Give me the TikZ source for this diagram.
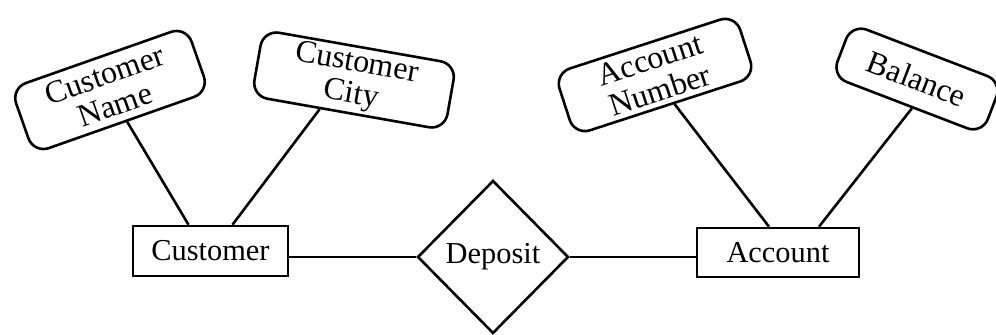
\documentclass[tikz,border=0pt]{standalone}
\usepackage{fontspec}
\setmainfont{Liberation Serif}
\usetikzlibrary{shapes.geometric,calc}
\begin{document}
\begin{tikzpicture}[x=0.5pt,y=-0.5pt,line width=1.3pt,
  entity/.style={draw,rectangle,inner sep=0pt,font=\fontsize{15.2}{16}\selectfont},
  attr/.style={draw,rectangle,rounded corners=8pt,inner sep=0pt,align=center,font=\fontsize{16}{16}\selectfont},
  relship/.style={draw,diamond,aspect=1,inner sep=0pt,font=\fontsize{15.2}{16}\selectfont},
  link/.style={draw,line width=1.3pt}]
\useasboundingbox (0,0) rectangle (996,335);
% entities
\node[entity,minimum width=77.5pt,minimum height=25pt] (cust) at (210.5,251) {Customer};
\node[entity,minimum width=81pt,minimum height=24.5pt] (acct) at (778,252.5) {Account};
\node[relship,minimum width=75.5pt,minimum height=76.5pt] (dep) at (493,257) {Deposit};
% attributes
\node[attr,rotate=19.4,minimum width=93pt,minimum height=34.5pt] (cname) at (110,90) {Customer\\Name};
\node[attr,rotate=-10,minimum width=98pt,minimum height=33.5pt] (ccity) at (354,80) {Customer\\City};
\node[attr,rotate=18,minimum width=95pt,minimum height=32.5pt] (anum) at (655,75) {Account\\Number};
\node[attr,rotate=-21,minimum width=80.5pt,minimum height=28pt] (bal) at (917,79) {Balance};
% connectors
\draw[link] ($(cname.south)!0.06!(cname.south east)$) -- ([xshift=-11pt]cust.north);
\draw[link] ($(ccity.south)!0.29!(ccity.south west)$) -- ([xshift=11pt]cust.north);
\draw[link] ($(anum.south)!0.1!(anum.south east)$) -- ([xshift=-4.5pt]acct.north);
\draw[link] ($(bal.south)!0.07!(bal.south east)$) -- ([xshift=20.5pt]acct.north);
\draw[link] (cust.east |- dep.west) -- (dep.west);
\draw[link] (dep.east) -- (acct.west |- dep.east);
\end{tikzpicture}
\end{document}
